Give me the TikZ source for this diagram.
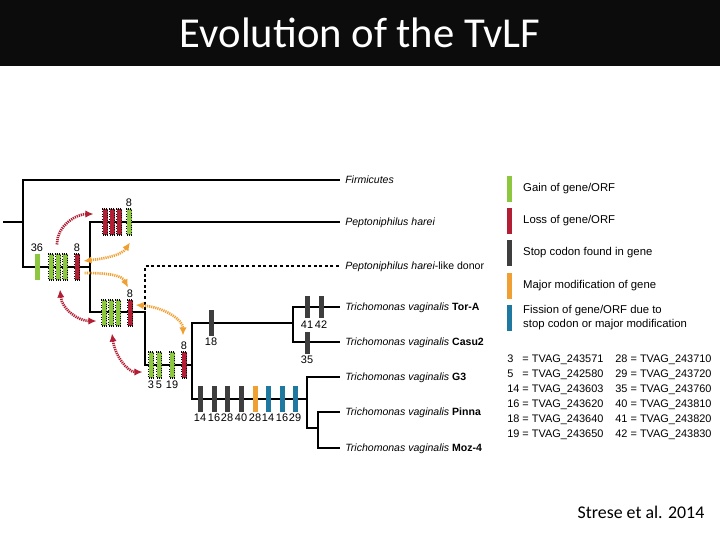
\documentclass[tikz,border=0pt]{standalone}
\usepackage{fontspec}
\setmainfont{Liberation Sans}
\newfontfamily\calibri{Carlito}
\usetikzlibrary{positioning,arrows.meta}

\begin{document}
\begin{tikzpicture}[x=0.75pt,y=0.75pt,yscale=-1,xscale=1,
  >={Latex[length=6pt,width=5.5pt]},
  branch/.style={line width=2.2pt,line cap=rect},
  mbar/.style={rectangle,inner sep=0pt,minimum width=3.75pt,minimum height=19.5pt},
  gainbar/.style={mbar,fill={rgb,255:red,141;green,198;blue,63}},
  lossbar/.style={mbar,fill={rgb,255:red,178;green,30;blue,52}},
  stopbar/.style={mbar,minimum height=19pt,fill={rgb,255:red,62;green,62;blue,62}},
  modbar/.style={mbar,minimum height=19pt,fill={rgb,255:red,240;green,160;blue,50}},
  fissbar/.style={mbar,minimum height=19pt,fill={rgb,255:red,30;green,120;blue,160}},
  dotline/.style={draw=black,densely dotted,line width=0.8pt},
  num/.style={inner sep=0.5pt,font=\fontsize{8.2}{9}\selectfont},
  leaf/.style={anchor=west,inner xsep=4.5pt,inner ysep=0pt,text height=5.7pt,text depth=0pt,font=\fontsize{7.9}{9}\selectfont\itshape},
  legtext/.style={anchor=west,inner sep=0pt,font=\fontsize{8.5}{10.5}\selectfont,align=left},
  redarc/.style={draw={rgb,255:red,178;green,30;blue,52},line width=2pt,dash pattern=on 0.9pt off 0.7pt},
  orangearc/.style={draw={rgb,255:red,240;green,160;blue,50},line width=2pt,dash pattern=on 0.9pt off 0.7pt}
]
\useasboundingbox (0,0) rectangle (720,540);
\fill[white] (0,0) rectangle (720,540);

%Title bar
\fill[fill={rgb,255:red,12;green,12;blue,12}] (0,0) rectangle (720,66);
\node[text=white,font=\calibri\fontsize{32}{36}\selectfont] (title) at (360,33) {Evolution of the TvLF};

%Tree nodes
\coordinate (stub) at (4,222);
\coordinate (n1) at (23,222);
\coordinate (n2) at (90,267);
\coordinate (n3) at (145,312);
\coordinate (n4) at (192,365);
\coordinate (n5) at (293,323);
\coordinate (n6) at (307,399);
\coordinate (n7) at (318,428);

%Leaves
\node[leaf] (firm) at (339,180) {Firmicutes};
\node[leaf] (harei) at (339,222) {Peptoniphilus harei};
\node[leaf] (donor) at (339,266) {Peptoniphilus harei{\upshape-like donor}};
\node[leaf] (tora) at (339,307) {Trichomonas vaginalis {\upshape\bfseries Tor-A}};
\node[leaf] (casu) at (339,342) {Trichomonas vaginalis {\upshape\bfseries Casu2}};
\node[leaf] (gthree) at (339,377) {Trichomonas vaginalis {\upshape\bfseries G3}};
\node[leaf] (pinna) at (339,412) {Trichomonas vaginalis {\upshape\bfseries Pinna}};
\node[leaf] (moz) at (339,448) {Trichomonas vaginalis {\upshape\bfseries Moz-4}};

%Branches
\draw[branch] (stub) -- (n1);
\draw[branch] (firm.west) -| (n2 -| n1) -- (n2);
\draw[branch] (harei.west) -| (n3 -| n2) -- (n3);
\draw[branch,line cap=butt,dash pattern=on 2.2pt off 2pt] (donor.west) -| (n3);
\draw[branch] (n3) |- (n4);
\draw[branch] (n5) -| (n6 -| n4) -- (n6);
\draw[branch] (tora.west) -| (casu.west -| n5) -- (casu.west);
\draw[branch] (gthree.west) -| (n7 -| n6) -- (n7);
\draw[branch] (pinna.west) -| (moz.west -| n7) -- (moz.west);

%Markers: branch to Peptoniphilus / Trichomonas
\node[gainbar] (g36) at (37,267) {};
\node[num,above=1pt of g36] (l36) {36};
\node[gainbar,dotline] (ga1) at (51,267) {};
\node[gainbar,dotline] (ga2) at (58,267) {};
\node[gainbar,dotline] (ga3) at (65,267) {};
\node[lossbar,dotline] (la8) at (77,267) {};
\node[num,above=1pt of la8] (lla8) {8};

%Markers: Peptoniphilus harei
\node[lossbar,dotline] (lb1) at (105,222) {};
\node[lossbar,dotline] (lb2) at (112,222) {};
\node[lossbar,dotline] (lb3) at (119,222) {};
\node[gainbar,dotline] (gb8) at (129,222) {};
\node[num,above=1pt of gb8] (lgb8) {8};

%Markers: donor / Trichomonas
\node[gainbar,dotline] (gc1) at (104,313) {};
\node[gainbar,dotline] (gc2) at (111,313) {};
\node[gainbar,dotline] (gc3) at (118,313) {};
\node[lossbar,dotline] (lc8) at (130,313) {};
\node[num,above=1pt of lc8] (llc8) {8};

%Markers: Trichomonas vaginalis
\node[gainbar,dotline] (gd3) at (151,365) {};
\node[gainbar,dotline] (gd5) at (159,365) {};
\node[gainbar,dotline] (gd19) at (172,365) {};
\node[lossbar,dotline] (ld8) at (184,365) {};
\node[num,below=1pt of gd3] (lgd3) {3};
\node[num,below=1pt of gd5] (lgd5) {5};
\node[num,below=1pt of gd19] (lgd19) {19};
\node[num,above=1pt of ld8] (lld8) {8};

%Stop codons
\node[stopbar] (s18) at (211,323) {};
\node[num,below=1pt of s18] (ls18) {18};
\node[stopbar,minimum height=17pt] (s41) at (307,307) {};
\node[stopbar,minimum height=17pt] (s42) at (321,307) {};
\node[num,below=1pt of s41] (ls41) {41};
\node[num,below=1pt of s42] (ls42) {42};
\node[stopbar,minimum height=16pt] (s35) at (307,343) {};
\node[num,below=1pt of s35] (ls35) {35};

%Markers: G3 / Pinna / Moz-4
\node[stopbar] (e14) at (200,399) {};
\node[stopbar] (e16) at (214,399) {};
\node[stopbar] (e28) at (227,399) {};
\node[stopbar] (e40) at (241,399) {};
\node[modbar] (m28) at (255,399) {};
\node[fissbar] (f14) at (268,399) {};
\node[fissbar] (f16) at (282,399) {};
\node[fissbar] (f29) at (295,399) {};
\node[num,below=1pt of e14] (le14) {14};
\node[num,below=1pt of e16] (le16) {16};
\node[num,below=1pt of e28] (le28) {28};
\node[num,below=1pt of e40] (le40) {40};
\node[num,below=1pt of m28] (lm28) {28};
\node[num,below=1pt of f14] (lf14) {14};
\node[num,below=1pt of f16] (lf16) {16};
\node[num,below=1pt of f29] (lf29) {29};

%Transfer arrows
\draw[redarc,->] ([shift={(-1,-9)}]ga2.north) .. controls +(0,-20) and +(-16,0) .. ([shift={(-8.5,-8)}]lb1.west);
\draw[redarc,<->] ([shift={(2,9)}]ga2.south) .. controls +(2,20) and +(-18,0) .. ([shift={(-4.5,8)}]gc1.west);
\draw[redarc,<->] ([shift={(1,7)}]gc2.south) .. controls +(3,22) and +(-15,0) .. ([shift={(-5.5,7)}]gd3.west);
\draw[orangearc,<->] ([shift={(3.5,-6)}]la8.east) .. controls +(25,-3) and +(-8,12) .. ([shift={(1,7)}]gb8.south);
\draw[orangearc,->] ([shift={(4.5,6)}]la8.east) .. controls +(25,0) and +(-6,-12) .. ([shift={(-2,-12)}]lc8.north);
\draw[orangearc,<->] ([shift={(2.5,-8)}]lc8.east) .. controls +(28,2) and +(0,-16) .. ([shift={(-1,-16)}]ld8.north);

%Legend
\node[gainbar] (leg1) at (509.5,189) {};
\node[lossbar] (leg2) at (509.5,220.5) {};
\node[stopbar,minimum height=19.5pt] (leg3) at (509.5,253) {};
\node[modbar,minimum height=19.5pt] (leg4) at (509.5,285.5) {};
\node[fissbar,minimum height=19.5pt] (leg5) at (509.5,318) {};
\node[legtext,right=8pt of leg1] (legt1) {Gain of gene/ORF};
\node[legtext,right=8pt of leg2] (legt2) {Loss of gene/ORF};
\node[legtext,right=8pt of leg3] (legt3) {Stop codon found in gene};
\node[legtext,right=8pt of leg4] (legt4) {Major modification of gene};
\node[legtext,right=8pt of leg5] (legt5) {Fission of gene/ORF due to\\stop codon or major modification};

%Gene ids
\node[anchor=north west,inner sep=0pt,font=\fontsize{8.2}{11.25}\selectfont] (ids) at (507,352) {%
\begin{tabular}{@{}l@{ = }l@{\hspace{9pt}}l@{ = }l@{}}
3 & TVAG\_243571 & 28 & TVAG\_243710\\
5 & TVAG\_242580 & 29 & TVAG\_243720\\
14 & TVAG\_243603 & 35 & TVAG\_243760\\
16 & TVAG\_243620 & 40 & TVAG\_243810\\
18 & TVAG\_243640 & 41 & TVAG\_243820\\
19 & TVAG\_243650 & 42 & TVAG\_243830
\end{tabular}};

%Citation
\node[font=\calibri\fontsize{13.4}{16}\selectfont] (cite) at (641,512) {Strese et al. 2014};

\end{tikzpicture}
\end{document}
